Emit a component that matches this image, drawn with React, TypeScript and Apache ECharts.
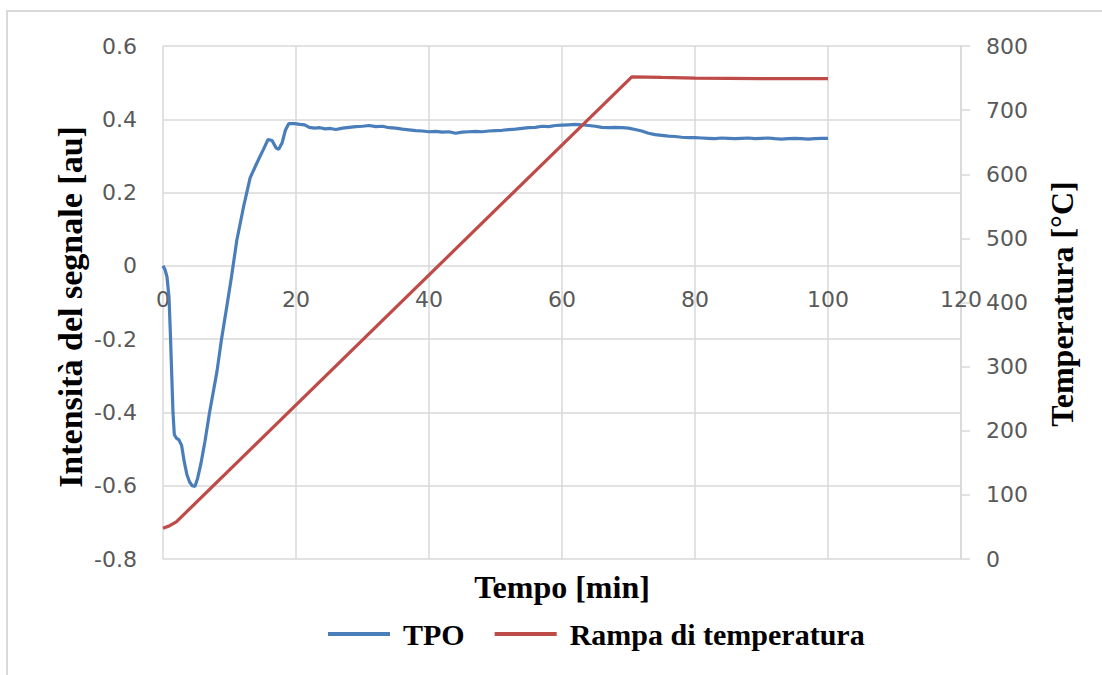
import React, { useEffect, useRef } from "react";
import * as echarts from "echarts";

// TPO signal (time in min, intensity in a.u.)
const tpoTime = [
  0, 0.3, 0.6, 0.9, 1.1, 1.3, 1.5, 1.7, 2.0, 2.4, 2.8, 3.2, 3.6, 4.0, 4.4, 4.8, 5.2, 5.7, 6.3, 7.0,
  7.6, 8.1, 8.8, 9.6, 10.3, 11.1, 12.1, 13.1, 14.1, 15.1, 15.8, 16.4, 17.0, 17.4, 17.9, 18.4, 18.9,
  19.8, 20.6, 21.3, 22.0, 22.8, 23.6, 24.4, 25.2, 26.0, 27, 28, 29, 30, 31, 32, 33, 34, 35, 36, 37,
  38, 39, 40, 41, 42, 43, 44, 45, 46, 47, 48, 49, 50, 51, 52, 53, 54, 55, 56, 57, 58, 59, 60, 61,
  62, 63, 64, 65, 66, 67, 68, 69, 70, 71, 72, 73, 74, 75, 76, 77, 78, 79, 80, 81, 82, 83, 84, 85,
  86, 87, 88, 89, 90, 91, 92, 93, 94, 95, 96, 97, 98, 99, 100,
];
const tpoSignal = [
  0, -0.01, -0.03, -0.085, -0.18, -0.29, -0.4, -0.46, -0.47, -0.475, -0.49, -0.535, -0.57, -0.59,
  -0.6, -0.602, -0.58, -0.54, -0.48, -0.4, -0.34, -0.29, -0.2, -0.11, -0.03, 0.07, 0.16, 0.24, 0.28,
  0.318, 0.345, 0.342, 0.322, 0.318, 0.335, 0.37, 0.388, 0.388, 0.386, 0.385, 0.378, 0.376, 0.377,
  0.374, 0.375, 0.372, 0.376, 0.378, 0.38, 0.381, 0.383, 0.38, 0.381, 0.377, 0.376, 0.373, 0.371,
  0.369, 0.368, 0.366, 0.367, 0.365, 0.366, 0.362, 0.365, 0.366, 0.367, 0.366, 0.368, 0.369, 0.37,
  0.372, 0.373, 0.375, 0.377, 0.378, 0.381, 0.38, 0.383, 0.384, 0.385, 0.386, 0.385, 0.383, 0.381,
  0.378, 0.377, 0.378, 0.377, 0.376, 0.372, 0.368, 0.362, 0.358, 0.356, 0.354, 0.353, 0.351, 0.35,
  0.35, 0.349, 0.348, 0.347, 0.349, 0.348, 0.347, 0.348, 0.349, 0.347, 0.348, 0.349, 0.347, 0.346,
  0.347, 0.348, 0.347, 0.346, 0.347, 0.348, 0.348,
];

// Temperature ramp (time in min, temperature in °C)
const rampTime = [0, 1, 2, 3, 70.5, 75, 80, 90, 100];
const rampTemp = [48, 52, 58, 68, 752, 751, 750, 749, 749];

const xTicks = { min: 0, max: 120, interval: 20 };
const signalTicks = { min: -0.8, max: 0.6, interval: 0.2 };
const tempTicks = { min: 0, max: 800, interval: 100 };

const seriesNames = ["TPO", "Rampa di temperatura"];
const xTitle = "Tempo [min]";
const signalTitle = "Intensità del segnale [au]";
const tempTitle = "Temperatura [°C]";

const GRID = "#d9d9d9";
const LABEL = "#595959";
const SANS = "DejaVu Sans";
const SERIF = "Liberation Serif";

// plot box in pixels
const PLOT_TOP = 46;
const PLOT_BOTTOM = 559;

export default function App() {
  const ref = useRef<HTMLDivElement>(null);

  useEffect(() => {
    if (!ref.current) return;
    const chart = echarts.init(ref.current, undefined, { renderer: "svg" });

    const tpoData = tpoTime.map((t, i) => [t, tpoSignal[i]]);
    const rampData = rampTime.map((t, i) => [t, rampTemp[i]]);

    // the time axis crosses the signal axis at 0: shift it up from the bottom edge
    const zeroFrac = (0 - signalTicks.min) / (signalTicks.max - signalTicks.min);
    const xAxisShift = -(PLOT_BOTTOM - PLOT_TOP) * zeroFrac;

    const labelStyle = { color: LABEL, fontFamily: SANS, fontSize: 22 };
    const titleStyle = { fill: "#000", fontFamily: SERIF, fontWeight: "bold", fontSize: 32 };

    chart.setOption({
      animation: false,
      backgroundColor: "#fff",
      grid: { left: 163, right: 141, top: PLOT_TOP, bottom: 675 - PLOT_BOTTOM, containLabel: false },
      xAxis: {
        type: "value",
        position: "bottom",
        offset: xAxisShift,
        ...xTicks,
        axisLine: { show: false, onZero: false },
        axisTick: { show: false },
        axisLabel: { ...labelStyle, margin: 23 },
        splitLine: { show: true, lineStyle: { color: GRID, width: 1.5 } },
      },
      yAxis: [
        {
          type: "value",
          position: "left",
          ...signalTicks,
          axisLine: { show: false },
          axisTick: { show: false },
          axisLabel: {
            ...labelStyle,
            margin: 26,
            formatter: (v: number) => (Math.abs(v) < 1e-9 ? "0" : v.toFixed(1)),
          },
          splitLine: { show: true, lineStyle: { color: GRID, width: 1.5 } },
        },
        {
          type: "value",
          position: "right",
          ...tempTicks,
          axisLine: { show: true, lineStyle: { color: GRID, width: 1.5 } },
          axisTick: { show: true, inside: false, length: 9, lineStyle: { color: GRID, width: 1.5 } },
          axisLabel: { ...labelStyle, margin: 25 },
          splitLine: { show: false },
        },
      ],
      legend: {
        left: 323,
        top: 614,
        itemWidth: 62,
        itemHeight: 4,
        itemGap: 30,
        icon: "rect",
        textStyle: {
          color: "#000",
          fontFamily: SERIF,
          fontWeight: "bold",
          fontSize: 30,
          padding: [0, 0, 0, 8],
        },
        data: seriesNames,
      },
      series: [
        {
          name: seriesNames[0],
          type: "line",
          yAxisIndex: 0,
          showSymbol: false,
          symbol: "none",
          data: tpoData,
          itemStyle: { color: "#4a7ebb" },
          lineStyle: { color: "#4a7ebb", width: 3.2 },
        },
        {
          name: seriesNames[1],
          type: "line",
          yAxisIndex: 1,
          showSymbol: false,
          symbol: "none",
          data: rampData,
          itemStyle: { color: "#be4b48" },
          lineStyle: { color: "#be4b48", width: 3.2 },
        },
      ],
      graphic: [
        {
          type: "rect",
          silent: true,
          z: -10,
          shape: { x: 7, y: 11, width: 1120, height: 700 },
          style: { fill: "none", stroke: GRID, lineWidth: 2 },
        },
        {
          type: "text",
          x: 562,
          y: 587,
          style: { ...titleStyle, text: xTitle, align: "center", verticalAlign: "middle" },
        },
        {
          type: "text",
          x: 70,
          y: 307,
          rotation: Math.PI / 2,
          style: {
            ...titleStyle,
            fontSize: 34,
            text: signalTitle,
            align: "center",
            verticalAlign: "middle",
          },
        },
        {
          type: "text",
          x: 1062,
          y: 304,
          rotation: Math.PI / 2,
          style: { ...titleStyle, text: tempTitle, align: "center", verticalAlign: "middle" },
        },
      ],
    });

    return () => chart.dispose();
  }, []);

  return (
    <div
      ref={ref}
      style={{ position: "absolute", left: 0, top: 0, width: 1102, height: 675, background: "#fff" }}
    />
  );
}
